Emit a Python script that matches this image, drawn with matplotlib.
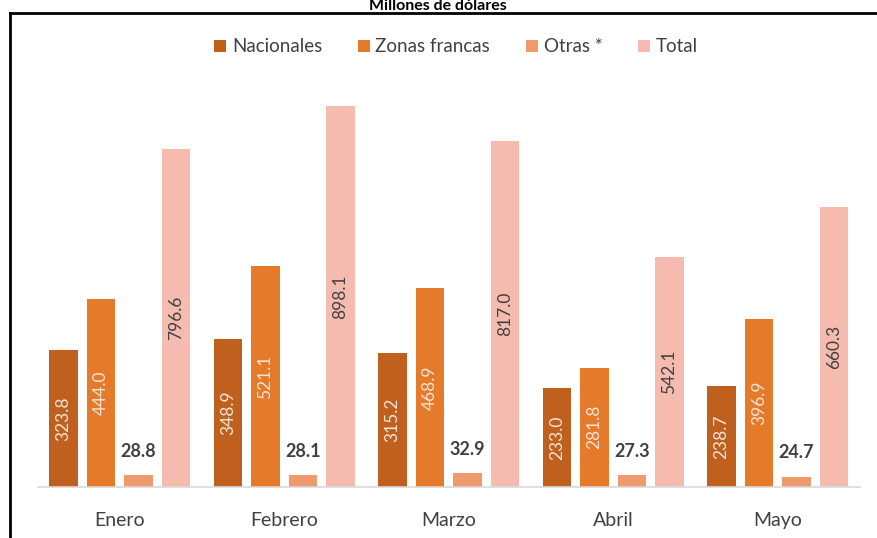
import matplotlib
matplotlib.use("Agg")
import matplotlib.pyplot as plt
from matplotlib.lines import Line2D
import numpy as np

plt.rcParams['font.family'] = ['Lato', 'DejaVu Sans']

months = ["Enero", "Febrero", "Marzo", "Abril", "Mayo"]
series_names = ["Nacionales", "Zonas francas", "Otras *", "Total"]
nacionales = [323.8, 348.9, 315.2, 233.0, 238.7]
zonas_francas = [444.0, 521.1, 468.9, 281.8, 396.9]
otras = [28.8, 28.1, 32.9, 27.3, 24.7]
total = [796.6, 898.1, 817.0, 542.1, 660.3]
title = "Millones de dólares"

colors = ["#C0601F", "#E57A2B", "#EE9A6C", "#F5BBAE"]
label_colors = ["#F6E6D8", "#F6E6D8", "#404040", "#404040"]

fig = plt.figure(figsize=(8.77, 5.38), dpi=100)
ax = fig.add_axes([37.5/877, 51/538, 822.5/877, 424/538])

x = np.arange(len(months))
step = 0.228
width = 0.176
data = [nacionales, zonas_francas, otras, total]
handles = []
for i, (vals, c) in enumerate(zip(data, colors)):
    pos = x + (i - 1.5) * step
    bars = ax.bar(pos, vals, width, color=c, label=series_names[i], zorder=2)
    handles.append(bars)
    for b, v in zip(bars, vals):
        cx = b.get_x() + b.get_width() / 2
        if i == 2:
            ax.annotate(f"{v:.1f}", (cx, v), xytext=(0, 11), textcoords="offset points",
                        ha="center", va="bottom", fontsize=13, color=label_colors[i],
                        fontweight="bold")
        else:
            ax.text(cx, v / 2, f"{v:.1f}", rotation=90, ha="center", va="center",
                    fontsize=12.5, color=label_colors[i])

ax.set_xlim(-0.5, len(months) - 0.5)
ax.set_ylim(0, 1000)
ax.set_xticks(x)
ax.set_xticklabels(months, fontsize=14, color="#404040")
ax.tick_params(axis="x", length=0, pad=18)
ax.set_yticks([])
for s in ["top", "right", "left"]:
    ax.spines[s].set_visible(False)
ax.spines["bottom"].set_color("#D9D9D9")
ax.spines["bottom"].set_linewidth(1.2)

leg = fig.legend(handles=handles, labels=series_names, loc="center",
                 bbox_to_anchor=(456/877, 1 - 47/538), ncol=4, frameon=False,
                 fontsize=13.5, handlelength=0.65, handleheight=0.65,
                 handletextpad=0.3, columnspacing=1.9, labelcolor="#404040")

# outer frame (clipped at right and bottom)
fig.add_artist(Line2D([9.5/877, 9.5/877], [0, 1 - 13/538], transform=fig.transFigure,
                      color="black", lw=2))
fig.add_artist(Line2D([9.5/877, 1], [1 - 13/538, 1 - 13/538], transform=fig.transFigure,
                      color="black", lw=2))

fig.text(438/877, 1 - 10/538, title, ha="center", va="baseline", fontsize=11.5,
         fontweight="bold", color="black")

fig.savefig("out.png", dpi=100)
